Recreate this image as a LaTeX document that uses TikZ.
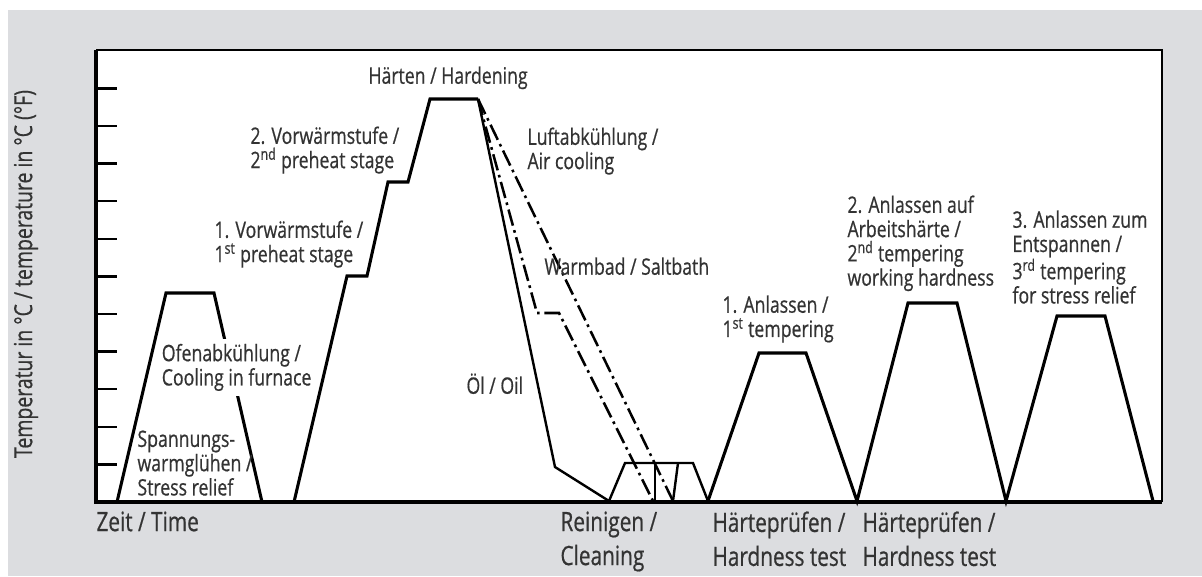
\documentclass[tikz,border=0pt]{standalone}
\usepackage{fontspec}
\setmainfont[FakeStretch=0.78,FakeBold=0.6]{Open Sans}
\definecolor{bgGray}{HTML}{DCDDE0}
\definecolor{txtGray}{HTML}{333333}

\tikzset{every picture/.style={line width=0.75pt}}
\tikzset{
  lbl/.style={anchor=north west,inner sep=0pt,align=left,text=txtGray,font=\fontsize{17}{18.2}\selectfont},
  botlbl/.style={anchor=north west,inner sep=0pt,align=left,text=txtGray,font=\fontsize{20}{25.5}\selectfont},
  curve/.style={line width=2.3pt,line join=miter},
  thincurve/.style={line width=1.8pt,line join=miter},
  dashdot/.style={line width=1.9pt,dash pattern={on 12.5pt off 3.5pt on 2pt off 3.5pt}},
}

\begin{document}
\begin{tikzpicture}[x=0.75pt,y=0.75pt,yscale=-1,xscale=1]
\useasboundingbox (0,0) rectangle (1202,576);

%Background
\fill[white] (0,0) rectangle (1202,576);
\fill[bgGray] (8,10) rectangle (1202,576);
\fill[white] (96,50) rectangle (1162,502);
%Frame
\draw[line width=1.5pt] (96,50) -- (1162,50) -- (1162,502);
%Axes
\draw[line width=2.3pt] (96,50) -- (96,502) -- (1162,502);
%Ticks
\foreach \k in {1,...,11}
  \draw[line width=1.8pt] (96,{502-37.6*\k}) -- (117,{502-37.6*\k});

%Stress relief
\draw[curve] (117,502) -- (166,293) -- (214,293) -- (262,502);
%Preheat and hardening
\draw[curve] (294,502) -- (347,276) -- (367,276) -- (388,182) -- (408,182) -- (430,99) -- (478,99);
\coordinate (hardEnd) at (478,99);
\coordinate (cleanStart) at (609,501);
%Oil
\draw[thincurve] (hardEnd) -- (555,467) -- (cleanStart);
%Saltbath
\draw[dashdot] (hardEnd) -- (537,313) -- (559,313) -- (653,501);
%Air cooling
\draw[dashdot] (hardEnd) -- (673,501);
%Cleaning
\draw[thincurve] (cleanStart) -- (625,463) -- (693,463) -- (708,501);
\draw[thincurve] (655,463) -- (655,501);
\draw[thincurve] (678,463) -- (673,501);
%Tempering
\draw[curve] (708,501) -- (759,353) -- (806,353) -- (857,501) -- (908,303) -- (957,303) -- (1006,501) -- (1057,316) -- (1105,316) -- (1153,501);

% Text Node
\node[lbl] (hardLbl) at (368,66) {Härten / Hardening};
% Text Node
\node[lbl] (pre2Lbl) at (250,126) {2. Vorwärmstufe /\\2\textsuperscript{nd} preheat stage};
% Text Node
\node[lbl] (pre1Lbl) at (214,220) {1. Vorwärmstufe /\\1\textsuperscript{st} preheat stage};
% Text Node
\node[lbl] (airLbl) at (527,127) {Luftabkühlung /\\Air cooling};
% Text Node
\node[lbl] (saltLbl) at (544,257) {Warmbad / Saltbath};
% Text Node
\node[lbl,fill=white,inner ysep=4pt,inner xsep=1pt] (furnLbl) at (160,338) {Ofenabkühlung /\\Cooling in furnace};
% Text Node
\node[lbl] (stressLbl) at (137,430) {Spannungs-\\warmglühen /\\Stress relief};
% Text Node
\node[lbl] (oilLbl) at (466,373) {Öl / Oil};
% Text Node
\node[lbl] (temp1Lbl) at (722,295) {1. Anlassen /\\1\textsuperscript{st} tempering};
% Text Node
\node[lbl] (temp2Lbl) at (847,195) {2. Anlassen auf\\Arbeitshärte /\\2\textsuperscript{nd} tempering\\working hardness};
% Text Node
\node[lbl] (temp3Lbl) at (1012,210) {3. Anlassen zum\\Entspannen /\\3\textsuperscript{rd} tempering\\for stress relief};
% Text Node
\node[botlbl] (timeLbl) at (96,511) {Zeit / Time};
% Text Node
\node[botlbl] (cleanLbl) at (560,511) {Reinigen /\\Cleaning};
% Text Node
\node[botlbl] (test1Lbl) at (712,511) {Härteprüfen /\\Hardness test};
% Text Node
\node[botlbl] (test2Lbl) at (862,511) {Härteprüfen /\\Hardness test};
% Text Node
\node[rotate=90,inner sep=0pt,text=txtGray,font=\fontsize{18.7}{20}\selectfont] (tempLbl) at (26,274) {Temperatur in °C / temperature in °C (°F)};

\end{tikzpicture}
\end{document}
